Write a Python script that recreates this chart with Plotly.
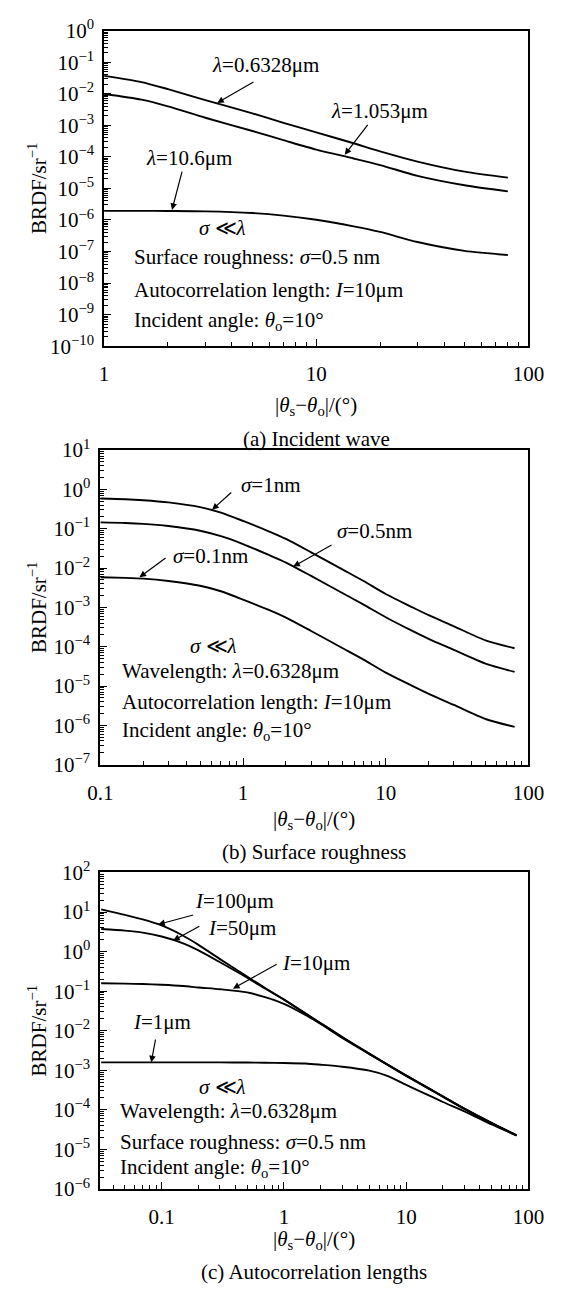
import numpy as np
import plotly.graph_objects as go

# ---------------- data ----------------
# (a) Incident wave
A_X = [1, 1.5, 2, 3, 5, 7, 10, 15, 20, 30, 50, 80]
A_L0633 = [3.7e-2, 2.35e-2, 1.4e-2, 6.3e-3, 2.4e-3, 1.2e-3, 6.0e-4, 2.7e-4, 1.5e-4, 7.1e-5, 3.4e-5, 2.2e-5]
A_L1053 = [9.8e-3, 6.5e-3, 4.0e-3, 1.74e-3, 6.6e-4, 3.4e-4, 1.7e-4, 8.9e-5, 5.5e-5, 2.5e-5, 1.26e-5, 8.1e-6]
A_L106 = [1.95e-6, 1.95e-6, 1.93e-6, 1.88e-6, 1.66e-6, 1.38e-6, 1.02e-6, 6.3e-7, 4.2e-7, 2.0e-7, 1.05e-7, 7.8e-8]

# (b) Surface roughness
B_X = [0.1, 0.15, 0.2, 0.3, 0.5, 0.7, 1, 1.5, 2, 3, 5, 7, 10, 15, 20, 30, 50, 80]
B_S1 = [0.585, 0.562, 0.531, 0.468, 0.355, 0.257, 0.158, 0.0871, 0.0550, 0.0251, 9.12e-3, 4.68e-3,
        2.19e-3, 1.05e-3, 6.31e-4, 3.31e-4, 1.45e-4, 9.12e-5]
B_S05 = [0.145, 0.140, 0.133, 0.117, 0.0891, 0.0646, 0.0407, 0.0219, 0.0138, 6.31e-3, 2.29e-3, 1.17e-3,
         5.62e-4, 2.63e-4, 1.58e-4, 8.32e-5, 3.72e-5, 2.29e-5]
B_S01 = [5.82e-3, 5.62e-3, 5.37e-3, 4.68e-3, 3.55e-3, 2.57e-3, 1.58e-3, 8.71e-4, 5.50e-4, 2.51e-4, 9.12e-5,
         4.68e-5, 2.19e-5, 1.05e-5, 6.31e-6, 3.31e-6, 1.45e-6, 9.12e-7]

# (c) Autocorrelation lengths
C_X = [0.032, 0.05, 0.07, 0.1, 0.15, 0.2, 0.3, 0.5, 0.7, 1, 1.5, 2, 3, 5, 7, 10, 15, 20, 30, 50, 80]
C_L100 = [11.7, 8.5, 6.5, 4.57, 2.51, 1.48, 0.646, 0.234, 0.120, 0.0617, 0.0275, 0.0155, 6.92e-3, 2.63e-3,
          1.41e-3, 7.41e-4, 3.63e-4, 2.19e-4, 1.07e-4, 4.68e-5, 2.26e-5]
C_L50 = [3.72, 3.39, 3.02, 2.40, 1.62, 1.07, 0.537, 0.219, 0.117, 0.0610, 0.0272, 0.0153, 6.84e-3, 2.60e-3,
         1.40e-3, 7.33e-4, 3.59e-4, 2.16e-4, 1.06e-4, 4.62e-5, 2.26e-5]
C_L10 = [0.158, 0.155, 0.151, 0.145, 0.135, 0.124, 0.112, 0.0933, 0.0708, 0.0479, 0.0251, 0.0148, 6.61e-3,
         2.57e-3, 1.38e-3, 7.24e-4, 3.55e-4, 2.14e-4, 1.05e-4, 4.57e-5, 2.26e-5]
C_L1 = [1.58e-3, 1.58e-3, 1.58e-3, 1.58e-3, 1.58e-3, 1.58e-3, 1.58e-3, 1.57e-3, 1.55e-3, 1.53e-3, 1.48e-3,
        1.38e-3, 1.23e-3, 9.77e-4, 7.24e-4, 4.27e-4, 2.40e-4, 1.58e-4, 9.12e-5, 4.27e-5, 2.26e-5]

# tick labels
A_XTICKS = [1, 10, 100]
A_XTEXT = ["1", "10", "100"]
BC_XTICKS = [0.1, 1, 10, 100]
BC_XTEXT = ["0.1", "1", "10", "100"]
A_YEXP = list(range(0, -11, -1))
B_YEXP = list(range(1, -8, -1))
C_YEXP = list(range(2, -7, -1))

# ---------------- layout helpers ----------------
W, H = 571, 1298
FONT = "Liberation Serif, Times New Roman, serif"
fs = 21


def px(x):
    return x / W


def py(y):
    return 1 - y / H


def sup(e):
    s = str(e).replace("-", "\u2212")
    return "10<sup>" + s + "</sup>"


def minor_vals(lo, hi):
    vals = []
    for d in range(lo, hi):
        for m in range(2, 10):
            vals.append(m * 10.0 ** d)
    return vals


def xaxis(dom, rng, anchor, tv, tt, mlo, mhi):
    return dict(type="log", domain=dom, range=rng, anchor=anchor,
                showline=True, linecolor="black", linewidth=1.8, mirror=True,
                ticks="inside", ticklen=7, tickwidth=1.3, tickcolor="black",
                tickmode="array", tickvals=tv, ticktext=tt,
                tickfont=dict(family=FONT, size=fs, color="black"),
                ticklabelstandoff=8,
                showgrid=False, zeroline=False,
                minor=dict(tickmode="array", tickvals=minor_vals(mlo, mhi), ticks="inside",
                           ticklen=4, tickwidth=1.1, tickcolor="black", showgrid=False))


def yaxis(dom, exps, anchor):
    return dict(type="log", domain=dom, range=[min(exps), max(exps)], anchor=anchor,
                showline=True, linecolor="black", linewidth=1.8, mirror=True,
                ticks="inside", ticklen=7, tickwidth=1.3, tickcolor="black",
                tickmode="array", tickvals=[10.0 ** e for e in exps], ticktext=[sup(e) for e in exps],
                tickfont=dict(family=FONT, size=fs, color="black"),
                ticklabelstandoff=4,
                showgrid=False, zeroline=False,
                minor=dict(tickmode="array", tickvals=minor_vals(min(exps), max(exps)), ticks="inside",
                           ticklen=4, tickwidth=1.0, tickcolor="black", showgrid=False))


# plot boxes in pixels
A_BOX = (96, 543, 17, 339)
B_BOX = (92, 543, 445, 766)
C_BOX = (92, 543, 876, 1199)

fig = go.Figure()
line = dict(color="black", width=1.9, shape="spline", smoothing=0.7)
for y in (A_L0633, A_L1053, A_L106):
    fig.add_trace(go.Scatter(x=A_X, y=y, mode="lines", line=line, xaxis="x", yaxis="y", showlegend=False))
for y in (B_S1, B_S05, B_S01):
    fig.add_trace(go.Scatter(x=B_X, y=y, mode="lines", line=line, xaxis="x2", yaxis="y2", showlegend=False))
for y in (C_L100, C_L50, C_L10, C_L1):
    fig.add_trace(go.Scatter(x=C_X, y=y, mode="lines", line=line, xaxis="x3", yaxis="y3", showlegend=False))

ann = []


def text(xr, yr, x, y, t, xanchor="center"):
    ann.append(dict(xref=xr, yref=yr, x=x, y=y, text=t, showarrow=False, xanchor=xanchor,
                    yanchor="middle", font=dict(family=FONT, size=fs, color="black")))


def arrow(xr, yr, hx, hy, tx, ty):
    ann.append(dict(xref=xr, yref=yr, axref=xr, ayref=yr, x=hx, y=hy, ax=tx, ay=ty, text="",
                    showarrow=True, arrowhead=2, arrowsize=1.1, arrowwidth=1.2, arrowcolor="black",
                    standoff=0, startstandoff=0))


# ---- panel (a) labels (positions in log10 units)
text("x", "y", 0.76, -1.085, "<i>λ</i>=0.6328μm")
arrow("x", "y", 0.533, -2.29, 0.711, -1.60)
text("x", "y", 1.297, -2.56, "<i>λ</i>=1.053μm")
arrow("x", "y", 1.134, -3.93, 1.248, -2.94)
text("x", "y", 0.402, -4.03, "<i>λ</i>=10.6μm")
arrow("x", "y", 0.32, -5.68, 0.369, -4.42)
text("x", "y", 0.557, -6.25, "<i>σ</i> ≪<i>λ</i>")
text("x", "y", 0.133, -7.18, "Surface roughness: <i>σ</i>=0.5 nm", "left")
text("x", "y", 0.133, -8.21, "Autocorrelation length: <i>I</i>=10μm", "left")
text("x", "y", 0.133, -9.19, "Incident angle: <i>θ</i><sub>o</sub>=10°", "left")

# ---- panel (b)
text("x2", "y2", 0.195, 0.118, "<i>σ</i>=1nm")
arrow("x2", "y2", -0.217, -0.518, -0.072, -0.045)
text("x2", "y2", 0.921, -1.049, "<i>σ</i>=0.5nm")
arrow("x2", "y2", 0.352, -1.963, 0.631, -1.392)
text("x2", "y2", -0.229, -1.694, "<i>σ</i>=0.1nm")
arrow("x2", "y2", -0.726, -2.233, -0.532, -1.718)
text("x2", "y2", -0.205, -3.98, "<i>σ</i> ≪<i>λ</i>")
text("x2", "y2", -0.859, -4.616, "Wavelength: <i>λ</i>=0.6328μm", "left")
text("x2", "y2", -0.859, -5.41, "Autocorrelation length: <i>I</i>=10μm", "left")
text("x2", "y2", -0.859, -6.15, "Incident angle: <i>θ</i><sub>o</sub>=10°", "left")

# ---- panel (c)
text("x3", "y3", -0.405, 1.28, "<i>I</i>=100μm")
arrow("x3", "y3", -1.028, 0.687, -0.73, 0.934)
text("x3", "y3", -0.346, 0.605, "<i>I</i>=50μm")
arrow("x3", "y3", -0.906, 0.277, -0.679, 0.663)
text("x3", "y3", 0.265, -0.297, "<i>I</i>=10μm")
arrow("x3", "y3", -0.417, -0.937, -0.047, -0.297)
text("x3", "y3", -1.0, -1.774, "<i>I</i>=1μm")
arrow("x3", "y3", -1.085, -2.8, -1.048, -2.184)
text("x3", "y3", -0.502, -3.414, "<i>σ</i> ≪<i>λ</i>")
text("x3", "y3", -1.355, -4.03, "Wavelength: <i>λ</i>=0.6328μm", "left")
text("x3", "y3", -1.355, -4.825, "Surface roughness: <i>σ</i>=0.5 nm", "left")
text("x3", "y3", -1.355, -5.465, "Incident angle: <i>θ</i><sub>o</sub>=10°", "left")

# ---- axis titles and captions (paper coords)
XT = "|<i>θ</i><sub>s</sub>−<i>θ</i><sub>o</sub>|/(°)"
YT = "BRDF/sr<sup>−1</sup>"
for box, xt_y, cap_y, cap in ((A_BOX, 400, 434, "(a) Incident wave"),
                              (B_BOX, 822, 855, "(b) Surface roughness"),
                              (C_BOX, 1251, 1284, "(c) Autocorrelation lengths")):
    cx = (box[0] + box[1]) / 2
    cy = (box[2] + box[3]) / 2
    ann.append(dict(xref="paper", yref="paper", x=px(cx), y=py(xt_y), text=XT, showarrow=False,
                    xanchor="center", yanchor="middle", font=dict(family=FONT, size=fs, color="black")))
    ann.append(dict(xref="paper", yref="paper", x=px(cx), y=py(cap_y), text=cap, showarrow=False,
                    xanchor="center", yanchor="middle", font=dict(family=FONT, size=fs, color="black")))
    ann.append(dict(xref="paper", yref="paper", x=px(26), y=py(cy), text=YT, showarrow=False,
                    textangle=-90, xanchor="center", yanchor="middle",
                    font=dict(family=FONT, size=fs, color="black")))


def dom_x(b):
    return [px(b[0]), px(b[1])]


def dom_y(b):
    return [py(b[3]), py(b[2])]


fig.update_layout(
    width=W, height=H, autosize=False,
    margin=dict(l=0, r=0, t=0, b=0),
    paper_bgcolor="white", plot_bgcolor="white",
    showlegend=False,
    xaxis=xaxis(dom_x(A_BOX), [0, 2], "y", A_XTICKS, A_XTEXT, 0, 2),
    yaxis=yaxis(dom_y(A_BOX), A_YEXP, "x"),
    xaxis2=xaxis(dom_x(B_BOX), [-1, 2], "y2", BC_XTICKS, BC_XTEXT, -1, 2),
    yaxis2=yaxis(dom_y(B_BOX), B_YEXP, "x2"),
    xaxis3=xaxis(dom_x(C_BOX), [np.log10(0.0315), 2], "y3", BC_XTICKS, BC_XTEXT, -2, 2),
    yaxis3=yaxis(dom_y(C_BOX), C_YEXP, "x3"),
    annotations=ann,
)

fig.write_html("out.html")
